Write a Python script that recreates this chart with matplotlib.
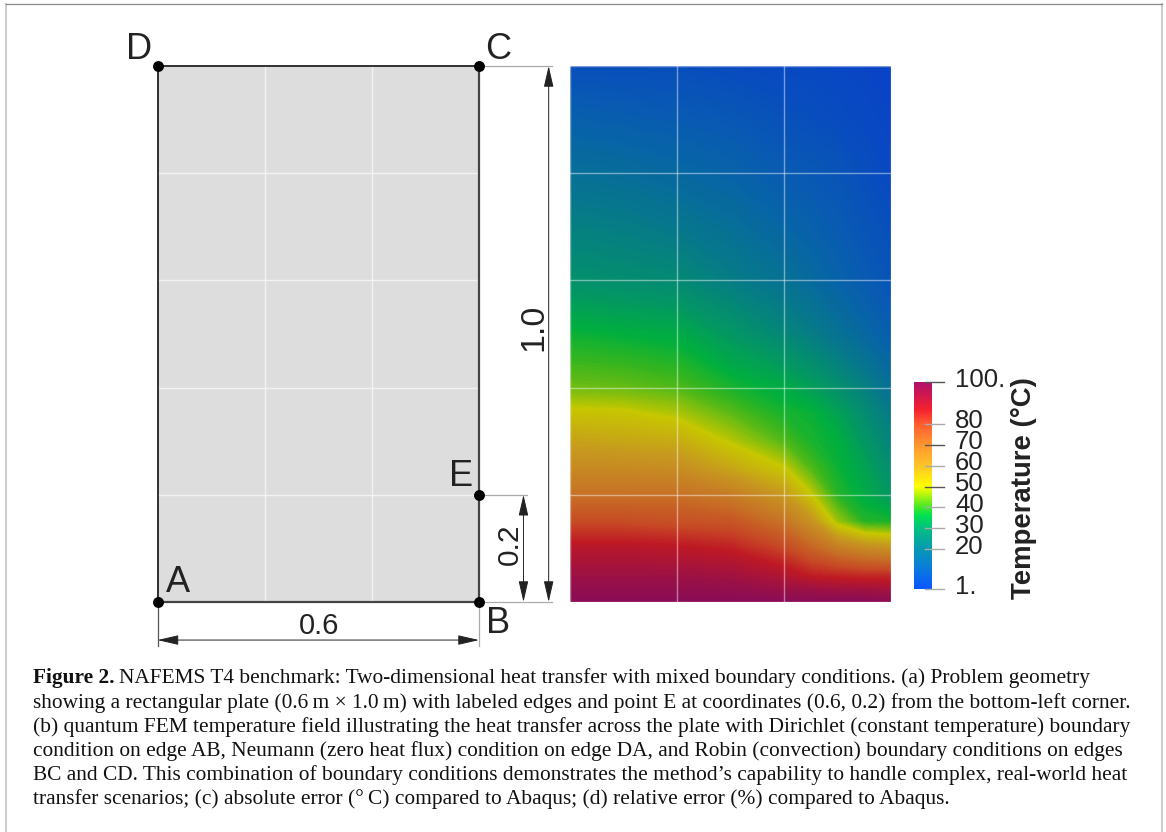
import numpy as np
import matplotlib
matplotlib.use("Agg")
import matplotlib.pyplot as plt
from matplotlib.cm import ScalarMappable
from matplotlib.colors import LinearSegmentedColormap, Normalize, to_rgb
from matplotlib.transforms import blended_transform_factory

# Temperature (deg C), rows go up the plate
x_nodes = [0, 0.1, 0.2, 0.3, 0.4, 0.45, 0.5, 0.55, 0.6]
y_nodes = [0, 0.02, 0.05, 0.1, 0.15, 0.2, 0.25, 0.3, 0.35, 0.4, 0.5, 0.6, 0.7, 0.8, 0.9, 1.0]
temp_x00 = [100, 98, 95, 89, 79, 71, 64, 58, 51.5, 44, 37, 28, 23, 17, 11, 5]
temp_x01 = [100, 98, 95, 89, 79, 71, 64, 57, 51, 43.5, 36, 27, 22, 16, 10, 5]
temp_x02 = [100, 98, 95, 88, 78, 71, 63, 56, 48.5, 42, 35, 26, 20, 14, 9, 5]
temp_x03 = [100, 98, 94, 86, 77, 68, 57, 49, 43, 38, 30, 22, 17, 12, 8, 4]
temp_x04 = [100, 96, 90, 80, 70, 60, 50, 42, 38, 35, 25, 18, 13, 9, 6, 3]
temp_x045 = [100, 96, 86, 74, 62, 50, 42, 38, 37, 32, 22, 15, 11, 8, 5, 3]
temp_x05 = [100, 95, 85, 68, 47, 39, 37, 36, 33, 28, 18, 12, 9, 7, 4, 2.5]
temp_x055 = [100, 95, 84, 64, 39, 35, 33, 30, 27, 23, 14, 9, 7, 5, 3, 2]
temp_x06 = [100, 94, 84, 62, 38, 30, 27, 24, 21, 17, 10, 7, 5, 3, 2, 1.5]
temp_columns = [temp_x00, temp_x01, temp_x02, temp_x03, temp_x04, temp_x045, temp_x05, temp_x055, temp_x06]

cmap_temps = [1, 10, 20, 30, 36, 40, 50, 60, 70, 80, 87, 100]
cmap_colors = ["#0a55ff", "#0a78e0", "#0898b4", "#04c080", "#00e050", "#40e828", "#ffff00",
               "#ffc428", "#ff9630", "#ff5c30", "#f4202e", "#b0106e"]
bar_ticks = [1, 20, 30, 40, 50, 60, 70, 80, 100]
bar_labels = ["1.", "20", "30", "40", "50", "60", "70", "80", "100."]

grid_x = [0.2, 0.4]
grid_y = [0.2, 0.4, 0.6, 0.8]
corner_names = ["A", "B", "C", "D", "E"]
corner_x = [0, 0.6, 0.6, 0, 0.6]
corner_y = [0, 0, 1.0, 1.0, 0.2]

caption_lines = [
    "NAFEMS T4 benchmark: Two-dimensional heat transfer with mixed boundary conditions. (a) Problem geometry",
    "showing a rectangular plate (0.6\u2009m \u00d7 1.0\u2009m) with labeled edges and point E at coordinates (0.6, 0.2) from the bottom-left corner.",
    "(b) quantum FEM temperature field illustrating the heat transfer across the plate with Dirichlet (constant temperature) boundary",
    "condition on edge AB, Neumann (zero heat flux) condition on edge DA, and Robin (convection) boundary conditions on edges",
    "BC and CD. This combination of boundary conditions demonstrates the method\u2019s capability to handle complex, real-world heat",
    "transfer scenarios; (c) absolute error (\u00b0\u2009C) compared to Abaqus; (d) relative error (%) compared to Abaqus.",
]

W, H = 1166, 832
plt.rcParams["font.family"] = ["Liberation Sans", "DejaVu Sans"]
fig = plt.figure(figsize=(W / 100, H / 100), dpi=100)
text_col = "#222222"


def box(left, top, right, bottom):
    return fig.add_axes([left / W, 1 - bottom / H, (right - left) / W, (bottom - top) / H])


# colours from the scalar bar, field on the right is rendered darker
span = cmap_temps[-1] - cmap_temps[0]
stops = [(t - cmap_temps[0]) / span for t in cmap_temps]
bar_cmap = LinearSegmentedColormap.from_list("bar", list(zip(stops, cmap_colors)), N=512)
dark_colors = [tuple(c * 0.78 for c in to_rgb(col)) for col in cmap_colors]
field_cmap = LinearSegmentedColormap.from_list("field", list(zip(stops, dark_colors)), N=512)
norm = Normalize(cmap_temps[0], cmap_temps[-1])

# page frame and caption, in pixels
page = box(0, 0, W, H)
page.set_xlim(0, W)
page.set_ylim(H, 0)
page.axis("off")
page.plot([6, 6], [4, H], color="#cccccc", lw=1.5)
page.plot([1162, 1162], [4, H], color="#cccccc", lw=1.5)
page.plot([6, 1162], [4, 4], color="#8a8a8a", lw=0.9)

cap_size = 15.4
bold = page.text(33, 678.5, "Figure 2.", family="Liberation Serif", weight="bold", size=cap_size,
                 va="center", color="#111111")
fig.canvas.draw()
bold_end = bold.get_window_extent().x1
for i, line in enumerate(caption_lines):
    page.text(bold_end + 4 if i == 0 else 33, 678.5 + i * 24.1, line, family="Liberation Serif",
              size=cap_size, va="center", color="#111111")

# geometry panel
ax = box(157.5, 66, 479, 602)
ax.set_xlim(0, 0.6)
ax.set_ylim(0, 1.0)
ax.axis("off")
ax.fill([0, 0.6, 0.6, 0], [0, 0, 1, 1], color="#dddddd", lw=0)
for gx in grid_x:
    ax.plot([gx, gx], [0, 1], color="#f2f2f2", lw=1)
for gy in grid_y:
    ax.plot([0, 0.6], [gy, gy], color="#f2f2f2", lw=1)
ax.plot([0, 0, 0.6], [0, 1, 1], color="#222222", lw=1.3, clip_on=False)
ax.plot([0.6, 0.6, 0], [1, 0, 0], color="#444444", lw=1.6, clip_on=False)

# extension lines
ext = dict(color="#aaaaaa", lw=0.9, clip_on=False)
ax.plot([0.6, 0.736], [1, 1], **ext)
ax.plot([0.6, 0.736], [0, 0], **ext)
ax.plot([0.6, 0.69], [0.2, 0.2], **ext)
ax.plot([0, 0], [0, -0.082], color="#555555", lw=0.9, clip_on=False)
ax.plot([0.6, 0.6], [0, -0.082], **ext)


def dim(start, end):
    ax.annotate("", xy=end, xytext=start, annotation_clip=False,
                arrowprops=dict(arrowstyle="<|-|>,head_length=1.3,head_width=0.3", mutation_scale=10,
                                shrinkA=0, shrinkB=0, lw=0.7, color="#222222"))


dim((0.73, 0), (0.73, 1))
dim((0.683, 0), (0.683, 0.2))
dim((0, -0.071), (0.6, -0.071))
ax.text(0.301, -0.045, "0.6", size=21, ha="center", va="center", color=text_col)
ax.text(0.702, 0.513, "1.0", size=24.5, rotation=90, ha="center", va="center", color=text_col)
ax.text(0.657, 0.108, "0.2", size=21.5, rotation=90, ha="center", va="center", color=text_col)

ax.scatter(corner_x, corner_y, s=62, color="black", zorder=5, clip_on=False, lw=0)
label_offsets = {"A": (20, 20), "B": (19, -21.5), "C": (19, 17), "D": (-18, 17), "E": (-18, 18)}
for name, cx, cy in zip(corner_names, corner_x, corner_y):
    ax.annotate(name, (cx, cy), xytext=(label_offsets[name][0] / 1.389, label_offsets[name][1] / 1.389),
                textcoords="offset points", size=26, ha="center", va="center", color=text_col,
                annotation_clip=False)

# temperature field
ax2 = box(570, 66, 891, 602)
temps = np.array(temp_columns).T
ax2.contourf(x_nodes, y_nodes, temps, levels=np.linspace(0, 100, 201), cmap=field_cmap, norm=norm,
             antialiased=False, extend="both")
ax2.set_xlim(0, 0.6)
ax2.set_ylim(0, 1.0)
ax2.axis("off")
for gx in [0] + grid_x + [0.6]:
    ax2.plot([gx, gx], [0, 1], color="white", alpha=0.45, lw=1, clip_on=False)
for gy in [0] + grid_y + [1.0]:
    ax2.plot([0, 0.6], [gy, gy], color="white", alpha=0.45, lw=1, clip_on=False)

# scalar bar
cax = box(914, 382, 932, 589)
cb = fig.colorbar(ScalarMappable(norm=norm, cmap=bar_cmap), cax=cax)
cb.outline.set_visible(False)
cb.set_ticks([])
trans = blended_transform_factory(cax.transAxes, cax.transData)
for i, (t, lab) in enumerate(zip(bar_ticks, bar_labels)):
    tick_col = "#aaaaaa" if t in (1, 20, 30, 40, 60, 80) else "#555555"
    cax.plot([0.6, 1.67], [t, t], transform=trans, color=tick_col, lw=1, clip_on=False)
    cax.annotate(lab, (1, t), xycoords=trans, xytext=(23 / 1.389, 2.5 / 1.389), textcoords="offset points",
                 size=18.5, ha="left", va="center", color=text_col, annotation_clip=False)
cax.text(6.13, 0.49, "Temperature (\u00b0C)", transform=cax.transAxes, size=19.8, weight="bold", rotation=90,
         ha="center", va="center", color=text_col)

fig.savefig("out.png", dpi=100)
